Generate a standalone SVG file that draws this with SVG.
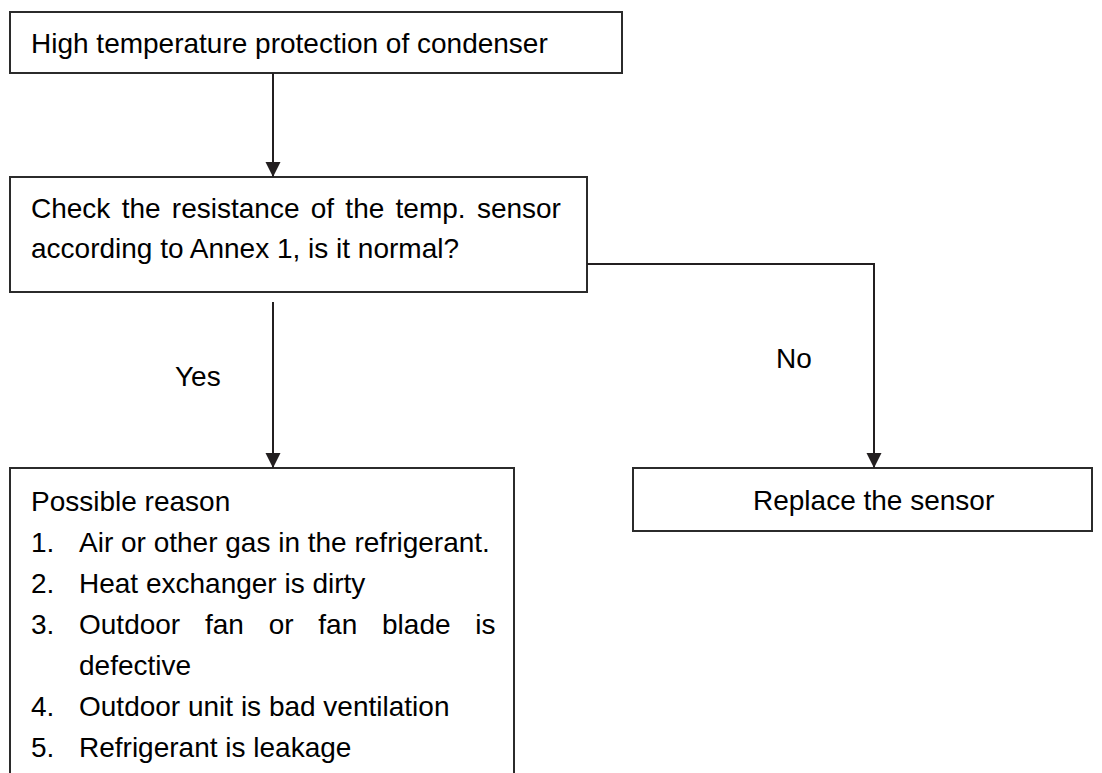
<svg xmlns="http://www.w3.org/2000/svg" width="1102" height="773" viewBox="0 0 1102 773">
  <style>
    .box { fill: #ffffff; stroke: #2b2b2b; stroke-width: 2; }
    .txt { font-family: "Liberation Sans", Arial, sans-serif; font-size: 28px; fill: #000000; }
    .conn { fill: none; stroke: #231f20; stroke-width: 2; }
  </style>
  <defs>
    <marker id="arrow" markerUnits="userSpaceOnUse" markerWidth="16" markerHeight="16" refX="15" refY="8" orient="auto" viewBox="0 0 16 16">
      <path d="M0,0.5 L15,8 L0,15.5 Z" fill="#231f20"/>
    </marker>
  </defs>
  <rect width="1102" height="773" fill="#ffffff"/>

  <g id="node-start">
    <rect class="box" x="10" y="12" width="612" height="61"/>
    <text class="txt" x="31" y="53">High temperature protection of condenser</text>
  </g>

  <g id="node-check">
    <rect class="box" x="10" y="177" width="577" height="115"/>
    <text class="txt" x="31" y="218" word-spacing="3.5">Check the resistance of the temp. sensor</text>
    <text class="txt" x="31" y="258">according to Annex 1, is it normal?</text>
  </g>

  <g id="node-reason">
    <rect class="box" x="10" y="468" width="504" height="340"/>
    <text class="txt" x="31" y="511">Possible reason</text>
    <text class="txt" x="31" y="552">1.</text>
    <text class="txt" x="79" y="552">Air or other gas in the refrigerant.</text>
    <text class="txt" x="31" y="593">2.</text>
    <text class="txt" x="79" y="593">Heat exchanger is dirty</text>
    <text class="txt" x="31" y="634">3.</text>
    <text class="txt" x="79" y="634" word-spacing="17">Outdoor fan or fan blade is</text>
    <text class="txt" x="79" y="675">defective</text>
    <text class="txt" x="31" y="716">4.</text>
    <text class="txt" x="79" y="716">Outdoor unit is bad ventilation</text>
    <text class="txt" x="31" y="757">5.</text>
    <text class="txt" x="79" y="757">Refrigerant is leakage</text>
  </g>

  <g id="node-replace">
    <rect class="box" x="633" y="468" width="459" height="63"/>
    <text class="txt" x="753" y="510">Replace the sensor</text>
  </g>

  <g id="connectors">
    <path class="conn" d="M273,73 V177" marker-end="url(#arrow)"/>
    <path class="conn" d="M273,302 V468" marker-end="url(#arrow)"/>
    <path class="conn" d="M587,264 H874 V468" marker-end="url(#arrow)"/>
    <text class="txt" x="175" y="386">Yes</text>
    <text class="txt" x="776" y="368">No</text>
  </g>
</svg>
